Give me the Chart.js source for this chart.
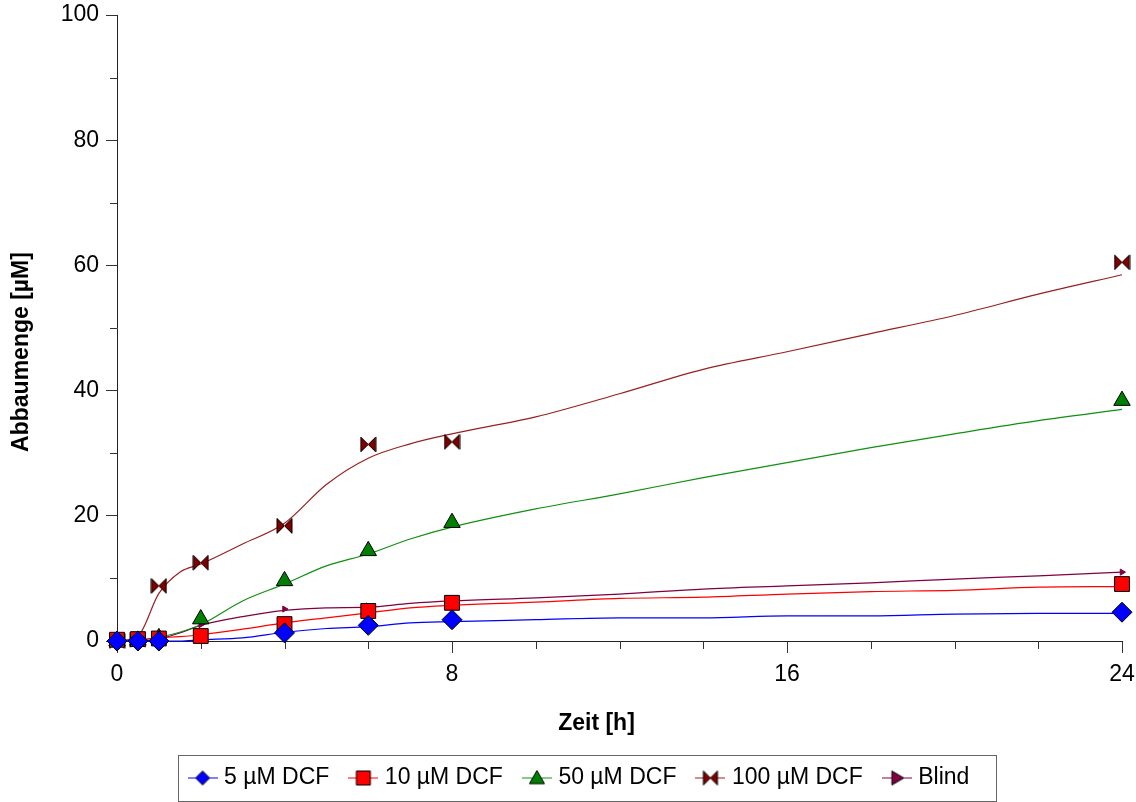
<!DOCTYPE html>
<html>
<head>
<meta charset="utf-8">
<title>Abbaumenge DCF</title>
<script src="https://cdn.jsdelivr.net/npm/chart.js@4/dist/chart.umd.min.js"></script>
<style>
  html, body { margin: 0; padding: 0; background: #fff; }
  #abbauChart { display: block; }
</style>
</head>
<body>
<canvas id="abbauChart" width="1136" height="802"></canvas>
<script>
// Sampling times [h] and measured amounts [µM]
const zeiten = [0, 0.5, 1, 2, 4, 6, 8, 24];
const dcf5   = [0, 0, 0, null, 1.3, 2.5, 3.4, 4.6];
const dcf10  = [0.2, 0.3, 0.4, 0.8, 2.7, 4.8, 6.1, 9.1];
const dcf50  = [0, 0.1, 0.5, 3.5, 9.6, 14.4, 18.9, 38.4];
const dcf100 = [0, 0.2, 8.8, 12.5, 18.4, 31.4, 31.8, 60.5];
const blind  = [0, 0, 0.3, 2.6, 5.1, 5.6, 6.3, 11.0];

// Smoothed trend curves
const kurvenZeiten = [0, 0.5, 1, 1.5, 2, 3, 4, 5, 6, 7, 8, 10, 12, 14, 16, 18, 20, 22, 24];
const kurve5   = [0, 0, 0, 0, 0.2, 0.5, 1.4, 2.0, 2.3, 2.9, 3.1, 3.4, 3.7, 3.7, 4.0, 4.0, 4.3, 4.4, 4.4];
const kurve10  = [0, 0.2, 0.5, 0.7, 1.0, 1.9, 2.9, 3.7, 4.5, 5.3, 5.7, 6.2, 6.8, 7.0, 7.5, 7.9, 8.1, 8.6, 8.7];
const kurve50  = [0, 0.1, 0.6, 1.4, 2.6, 6.4, 9.1, 12.0, 13.9, 16.3, 18.2, 21.1, 23.5, 26.1, 28.5, 30.9, 33.1, 35.2, 37.0];
const kurve100 = [0, 0.8, 7.6, 11.0, 12.3, 15.5, 18.8, 25.0, 29.2, 31.5, 33.1, 35.8, 39.5, 43.4, 46.2, 49.1, 52.0, 55.4, 58.5];
const kurveBlind = [0, 0, 0.3, 1.3, 2.5, 3.9, 4.9, 5.3, 5.4, 6.0, 6.4, 6.9, 7.5, 8.3, 8.8, 9.3, 9.9, 10.4, 11.0];

const serien = [
    { label: '5 µM DCF',   werte: dcf5,   kurve: kurve5,     farbe: '#0000ff', linie: '#0000ff', marker: 'diamond' },
    { label: '10 µM DCF',  werte: dcf10,  kurve: kurve10,    farbe: '#ff0000', linie: '#ff0000', marker: 'square' },
    { label: '50 µM DCF',  werte: dcf50,  kurve: kurve50,    farbe: '#008000', linie: '#109010', marker: 'triangle' },
    { label: '100 µM DCF', werte: dcf100, kurve: kurve100,   farbe: '#800000', linie: '#992020', marker: 'bowtie' },
    { label: 'Blind',      werte: blind,  kurve: kurveBlind, farbe: '#800040', linie: '#800040', marker: 'arrow' }
];

const FONT = "'Liberation Sans', Arial, sans-serif";
Chart.defaults.font.family = FONT;
Chart.defaults.color = '#000';

// small marker shapes used for the bow-tie points and the legend samples
function drawMarker(ctx, shape, cx, cy, r, fill) {
    ctx.beginPath();
    if (shape === 'diamond') {
        ctx.moveTo(cx, cy - r); ctx.lineTo(cx + r, cy); ctx.lineTo(cx, cy + r); ctx.lineTo(cx - r, cy); ctx.closePath();
    } else if (shape === 'square') {
        ctx.rect(cx - r, cy - r, 2 * r, 2 * r);
    } else if (shape === 'triangle') {
        ctx.moveTo(cx, cy - r); ctx.lineTo(cx + r, cy + r * 0.75); ctx.lineTo(cx - r, cy + r * 0.75); ctx.closePath();
    } else if (shape === 'bowtie') {
        ctx.moveTo(cx - r, cy - r); ctx.lineTo(cx, cy); ctx.lineTo(cx - r, cy + r); ctx.closePath();
        ctx.moveTo(cx + r, cy - r); ctx.lineTo(cx, cy); ctx.lineTo(cx + r, cy + r); ctx.closePath();
    } else if (shape === 'arrow') {
        ctx.moveTo(cx + r, cy); ctx.lineTo(cx - r * 0.7, cy - r); ctx.lineTo(cx - r * 0.7, cy + r); ctx.closePath();
    }
    ctx.fillStyle = fill;
    ctx.fill();
    ctx.strokeStyle = '#000';
    ctx.lineWidth = 1;
    ctx.stroke();
}

function bowtieImage(size) {
    const c = document.createElement('canvas');
    c.width = c.height = size;
    drawMarker(c.getContext('2d'), 'bowtie', size / 2, size / 2, size / 2 - 1, '#800000');
    return c;
}

function legendIcon(s) {
    const c = document.createElement('canvas');
    c.width = 30; c.height = 20;
    const g = c.getContext('2d');
    g.strokeStyle = s.linie;
    g.lineWidth = 1;
    g.beginPath(); g.moveTo(0, 10.5); g.lineTo(30, 10.5); g.stroke();
    drawMarker(g, s.marker, 15, 10.5, s.marker === 'triangle' ? 7.5 : 7, s.farbe);
    return c;
}
const legendIcons = serien.map(legendIcon);

function punktStil(s) {
    switch (s.marker) {
        case 'diamond':  return { pointStyle: 'rectRot', pointRadius: 10, rotation: 0 };
        case 'square':   return { pointStyle: 'rect', pointRadius: 10.5, rotation: 0 };
        case 'triangle': return { pointStyle: 'triangle', pointRadius: 9.5, rotation: 0 };
        case 'bowtie':   return { pointStyle: bowtieImage(17), pointRadius: 8, rotation: 0 };
        default:         return { pointStyle: 'triangle', pointRadius: 3.5, rotation: 90 };
    }
}

// markers first so they are painted above the curves
const markerSets = serien.map(s => Object.assign({
    label: s.label,
    data: zeiten.map((t, i) => ({ x: t, y: s.werte[i] })),
    showLine: false,
    backgroundColor: s.farbe,
    borderColor: s.marker === 'arrow' ? s.farbe : '#000',
    pointBorderWidth: 1,
    clip: false
}, punktStil(s)));

const kurvenSets = serien.map(s => ({
    label: s.label + ' Kurve',
    data: kurvenZeiten.map((t, i) => ({ x: t, y: s.kurve[i] })),
    showLine: true,
    borderColor: s.linie,
    borderWidth: 1.2,
    pointRadius: 0,
    cubicInterpolationMode: 'monotone',
    clip: false
}));

// minor ticks and axis titles
const axisDecor = {
    id: 'axisDecor',
    beforeDatasetsDraw(chart) {
        const { ctx, chartArea: a, scales: { x, y } } = chart;
        ctx.save();
        ctx.strokeStyle = '#333';
        ctx.lineWidth = 1;
        ctx.beginPath();
        for (let v = 10; v < 100; v += 20) {
            const py = Math.round(y.getPixelForValue(v)) + 0.5;
            ctx.moveTo(a.left - 7, py); ctx.lineTo(a.left, py);
        }
        for (let v = 2; v < 24; v += 2) {
            if (v % 8 === 0) continue;
            const px = Math.round(x.getPixelForValue(v)) + 0.5;
            ctx.moveTo(px, a.bottom); ctx.lineTo(px, a.bottom + 8);
        }
        ctx.stroke();
        ctx.restore();
    },
    afterDraw(chart) {
        const { ctx, chartArea: a } = chart;
        ctx.save();
        ctx.fillStyle = '#000';
        ctx.font = 'bold 23px ' + FONT;
        ctx.textAlign = 'center';
        ctx.textBaseline = 'middle';
        ctx.fillText('Zeit [h]', (a.left + a.right) / 2 - 23, a.bottom + 83);
        ctx.translate(22, (a.top + a.bottom) / 2 + 24);
        ctx.rotate(-Math.PI / 2);
        ctx.fillText('Abbaumenge [µM]', 0, 0);
        ctx.restore();

        // frame round the legend
        const boxes = chart.legend.legendHitBoxes;
        if (!boxes || !boxes.length) return;
        const first = boxes[0], last = boxes[boxes.length - 1];
        const left = Math.round(first.left - 15) + 0.5;
        const right = Math.round(last.left + last.width + 27) + 0.5;
        const mid = first.top + first.height / 2;
        ctx.save();
        ctx.strokeStyle = '#666';
        ctx.lineWidth = 1;
        ctx.strokeRect(left, Math.round(mid - 23) + 0.5, right - left, 46);
        ctx.restore();
    }
};

new Chart(document.getElementById('abbauChart'), {
    type: 'scatter',
    data: { datasets: markerSets.concat(kurvenSets) },
    plugins: [axisDecor],
    options: {
        responsive: false,
        animation: false,
        events: [],
        layout: { padding: { top: 15, right: 14, bottom: 3, left: 40 } },
        plugins: {
            tooltip: { enabled: false },
            legend: {
                position: 'bottom',
                labels: {
                    usePointStyle: true,
                    pointStyleWidth: 20,
                    padding: 24,
                    font: { size: 23 },
                    color: '#000',
                    generateLabels(chart) {
                        return Chart.defaults.plugins.legend.labels.generateLabels(chart)
                            .filter(item => item.datasetIndex < serien.length)
                            .map(item => Object.assign(item, { pointStyle: legendIcons[item.datasetIndex], rotation: 0 }));
                    }
                }
            }
        },
        scales: {
            x: {
                type: 'linear',
                min: 0, max: 24,
                ticks: { stepSize: 8, padding: 8, font: { size: 23 }, color: '#000', maxRotation: 0 },
                grid: { drawOnChartArea: false, tickLength: 12, color: '#333' },
                border: { color: '#222', width: 1 },
                afterFit(s) { s.height = 101; s.paddingLeft = 0; s.paddingRight = 0; }
            },
            y: {
                min: 0, max: 100,
                ticks: { stepSize: 20, padding: 7, font: { size: 23 }, color: '#000' },
                grid: { drawOnChartArea: false, tickLength: 11, color: '#333' },
                border: { color: '#222', width: 1 },
                afterFit(s) { s.width = 77; s.paddingTop = 0; s.paddingBottom = 0; }
            }
        }
    }
});
</script>
</body>
</html>
